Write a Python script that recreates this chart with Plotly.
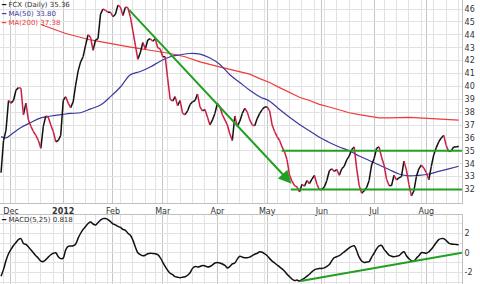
import plotly.graph_objects as go

# ---- data (x = trading-day index, 0 = 1 Dec 2011) ----
day_start = -4
close = [
    33.3, 35.8, 36.6, 38.9, 38.7, 38.9, 39.7, 39.9, 39.85, 37.8, 38.7, 37.4, 36.9, 36.5, 36.2, 35.8, 35.2, 36.9, 37.7, 37.6, 37.0, 36.5, 35.7, 35.8, 36.2,
    38.9, 39.2, 38.7, 38.35, 38.8, 40.1, 41.2, 41.9, 42.3, 43.2, 44.0, 43.8, 42.8, 43.6, 43.7, 45.6, 46.0, 45.9, 45.75, 45.75,
    45.4, 45.6, 46.3, 46.15, 45.5, 46.15, 46.1, 45.4, 44.3, 43.2, 42.1, 42.6, 43.4, 42.9, 43.6, 43.7, 43.5, 43.7, 43.0, 42.9,
    42.3, 42.3, 40.6, 39.0, 38.85, 39.2, 38.5, 38.9, 37.9, 37.8, 38.1, 38.6, 38.8, 38.9, 39.4, 38.4, 38.1, 38.2, 37.6, 37.0, 37.4, 37.9,
    38.7, 38.4, 37.8, 37.4, 37.0, 36.3, 35.8, 37.7, 36.9, 37.3, 37.9, 38.3, 38.0, 37.4, 37.0, 36.95, 37.5, 37.9, 38.2, 38.4,
    38.4, 38.1, 37.0, 36.5, 36.1, 35.8, 35.3, 34.9, 34.3, 33.1, 32.65, 32.3, 32.2, 31.8, 32.4, 32.25, 32.7, 32.45, 32.8, 33.1, 32.4, 32.0,
    32.0, 32.2, 32.7, 33.45, 33.6, 33.4, 33.55, 33.1, 33.6, 33.8, 34.3, 34.6, 35.1, 35.3, 33.6, 32.3, 31.7, 31.9, 32.15, 32.7, 33.9,
    34.4, 35.2, 35.3, 34.5, 33.9, 32.8, 32.3, 32.3, 33.1, 32.75, 32.9, 33.0, 34.2, 33.5, 32.4, 31.5, 31.9, 33.0, 33.6, 33.9, 33.65,
    33.3, 32.75, 33.8, 34.7, 35.25, 35.7, 36.0, 36.2, 35.4, 34.95, 35.0, 35.3, 35.3, 35.36,
]
macd = [
    -2.4, -1.7, -0.8, -0.1, 0.35, 0.75, 1.05, 1.35, 1.45, 0.95, 0.85, 0.6, 0.3, 0.0, -0.3, -0.55, -0.85, -0.9, -0.7, -0.45, -0.2, -0.05, 0.0, -0.4, -0.6,
    -0.55, 0.3, 0.65, 0.7, 0.72, 0.9, 1.5, 2.0, 2.4, 2.7, 3.0, 3.15, 2.95, 2.85, 3.1, 3.35, 3.5, 3.5, 3.4, 3.2,
    2.95, 2.85, 2.7, 2.6, 2.4, 2.3, 2.0, 1.8, 1.3, 0.6, 0.0, -0.2, -0.3, -0.25, -0.1, -0.05, -0.07, -0.1, -0.2, -0.5,
    -0.95, -1.4, -1.8, -2.1, -2.25, -2.45, -2.5, -2.55, -2.5, -2.45, -2.3, -2.05, -1.6, -1.4, -1.45, -1.4, -1.3, -1.35, -1.45, -1.4, -1.25, -1.05,
    -1.0, -1.05, -1.15, -1.3, -1.55, -1.4, -1.15, -1.05, -0.65, -0.35, -0.45, -0.5, -0.5, -0.45, -0.3, -0.15, -0.05, 0.1, 0.05, -0.1,
    -0.3, -0.6, -0.85, -1.05, -1.25, -1.45, -1.65, -1.9, -2.2, -2.45, -2.7, -2.85, -2.8, -2.9, -2.75, -2.6, -2.4, -2.2, -1.95, -1.75, -1.65, -1.6,
    -1.6, -1.55, -1.4, -1.2, -0.8, -0.5, -0.4, -0.3, -0.1, 0.1, 0.3, 0.5, 0.65, 0.72, 0.2, -0.45, -0.85, -1.0, -0.95, -0.9, -0.45,
    -0.05, 0.4, 0.7, 0.75, 0.35, 0.05, -0.25, -0.35, -0.4, -0.35, -0.3, -0.05, 0.1, -0.3, -0.6, -0.8, -0.85, -0.55, -0.3, 0.0, 0.0,
    -0.05, 0.1, 0.35, 0.7, 1.05, 1.35, 1.45, 1.45, 1.25, 1.0, 0.9, 0.87, 0.85, 0.818,
]
ma50_days = [-4, -2, 0, 4, 8, 12, 16, 20, 24, 28, 32, 36, 40, 44, 48, 52, 56, 60, 64, 68, 72, 76, 80, 84, 88, 92,
             96, 100, 104, 108, 112, 116, 120, 124, 128, 132, 136, 140, 144, 148, 152, 156, 160, 164, 168, 172, 176, 180]
ma50 = [36.1, 36.0, 36.25, 36.8, 37.2, 37.55, 37.7, 37.8, 37.9, 37.95, 38.25, 38.55, 39.2, 39.95, 40.9, 41.15, 41.5, 41.95,
        42.3, 42.45, 42.55, 42.5, 42.2, 41.7, 40.9, 40.3, 39.7, 39.2, 38.85, 38.2, 37.6, 37.05, 36.55, 36.05, 35.65, 35.3,
        35.0, 34.6, 34.25, 33.9, 33.55, 33.2, 33.05, 33.1, 33.2, 33.4, 33.6, 33.8]
ma200_days = [12, 22, 32, 40, 48, 56, 64, 70, 76, 83, 92, 96, 100, 104, 108, 112, 116, 120, 124, 128, 132, 136, 140,
              144, 148, 152, 156, 160, 164, 168, 172, 176, 180]
ma200 = [44.8, 44.1, 43.6, 43.3, 43.05, 42.8, 42.55, 42.3, 41.9, 41.55, 41.15, 40.95, 40.6, 40.3, 39.9, 39.5, 39.15,
         38.9, 38.6, 38.4, 38.15, 37.95, 37.8, 37.65, 37.55, 37.55, 37.6, 37.6, 37.55, 37.5, 37.5, 37.42, 37.38]

month_days = [0, 21, 41, 61, 83, 103, 125, 146, 167]
month_labels = ["Dec", "<b>2012</b>", "Feb", "Mar", "Apr", "May", "Jun", "Jul", "Aug"]
week_days = [-3, 2, 7, 12, 17, 21, 25, 30, 34, 39, 44, 49, 54, 58, 63, 68, 73, 78, 83, 87, 92, 97, 102, 107,
             112, 117, 122, 126, 131, 136, 141, 146, 150, 155, 160, 165, 170, 175, 180]
price_ticks = list(range(31, 47))
macd_ticks = [-3, -2, -1, 0, 1, 2, 3]
macd_tick_labels = ["", "-2", "", "0", "", "2", ""]

downtrend_days = [46.9, 112.8]
downtrend_vals = [46.05, 32.45]
resist_days = [108.8, 181.3]
resist_vals = [35, 35]
support_days = [112.5, 181.3]
support_vals = [32, 32]
macd_trend_days = [116.5, 181.3]
macd_trend_vals = [-2.9, 0.0]

# ---- styling ----
BLACK = "#111111"
RED_PRICE = "#cc1f45"
RED_MA = "#ee3b3b"
BLUE_MA = "#3a3a9c"
GREEN = "#22a022"
GRID = "#e2e2e2"
GRID_MONTH = "#c6c6c6"
FONT = "DejaVu Sans"

days = list(range(day_start, day_start + len(close)))
macd_days = list(range(day_start, day_start + len(macd)))

up_x, up_y, dn_x, dn_y = [], [], [], []
for i in range(1, len(close)):
    if close[i] >= close[i - 1]:
        up_x += [days[i - 1], days[i], None]
        up_y += [close[i - 1], close[i], None]
    else:
        dn_x += [days[i - 1], days[i], None]
        dn_y += [close[i - 1], close[i], None]

fig = go.Figure()
fig.add_trace(go.Scatter(x=ma200_days, y=ma200, mode="lines", line=dict(color=RED_MA, width=1.2),
                         xaxis="x", yaxis="y"))
fig.add_trace(go.Scatter(x=ma50_days, y=ma50, mode="lines", line=dict(color=BLUE_MA, width=1.2, shape="spline"),
                         xaxis="x", yaxis="y"))
fig.add_trace(go.Scatter(x=up_x, y=up_y, mode="lines", line=dict(color=BLACK, width=1.5), xaxis="x", yaxis="y"))
fig.add_trace(go.Scatter(x=dn_x, y=dn_y, mode="lines", line=dict(color=RED_PRICE, width=1.5), xaxis="x", yaxis="y"))
fig.add_trace(go.Scatter(x=resist_days, y=resist_vals, mode="lines", line=dict(color=GREEN, width=2),
                         xaxis="x", yaxis="y"))
fig.add_trace(go.Scatter(x=support_days, y=support_vals, mode="lines", line=dict(color=GREEN, width=2),
                         xaxis="x", yaxis="y"))
fig.add_trace(go.Scatter(x=macd_days, y=macd, mode="lines", line=dict(color=BLACK, width=1.5, shape="spline"),
                         xaxis="x2", yaxis="y2"))
fig.add_trace(go.Scatter(x=macd_trend_days, y=macd_trend_vals, mode="lines", line=dict(color=GREEN, width=2),
                         xaxis="x2", yaxis="y2"))

fig.add_annotation(x=downtrend_days[1], y=downtrend_vals[1], ax=downtrend_days[0], ay=downtrend_vals[0],
                   xref="x", yref="y", axref="x", ayref="y", text="", showarrow=True,
                   arrowhead=2, arrowsize=1.3, arrowwidth=2, arrowcolor=GREEN, standoff=0)

H = 284.0
price_legend = "<br>".join([
    f"<span style='color:{BLACK}'>━</span> <span style='color:#333333'>FCX (Daily) {close[-1]:.2f}</span>",
    f"<span style='color:{BLUE_MA}'>━</span> <span style='color:{BLUE_MA}'>MA(50) {ma50[-1]:.2f}</span>",
    f"<span style='color:{RED_MA}'>━</span> <span style='color:{RED_MA}'>MA(200) {ma200[-1]:.2f}</span>",
])
fig.add_annotation(x=0.0, y=1.0, xref="paper", yref="paper", xanchor="left", yanchor="top", align="left",
                   showarrow=False, borderpad=0, text=price_legend,
                   font=dict(family=FONT, size=7))
fig.add_annotation(x=0.0, y=1 - 219.5 / H, xref="paper", yref="paper", xanchor="left", yanchor="middle",
                   showarrow=False, borderpad=0,
                   text=f"<span style='color:{BLACK}'>━</span> <span style='color:#333333'>MACD(5,25) {macd[-1]:.3f}</span>",
                   font=dict(family=FONT, size=7))

xcommon = dict(range=[-4.42, 181.34], tickmode="array", tickvals=month_days, showgrid=True,
               gridcolor=GRID_MONTH, gridwidth=1, zeroline=False, ticks="", showline=True, mirror=True,
               linecolor="#c0c0c0", linewidth=1,
               minor=dict(tickmode="array", tickvals=week_days, showgrid=True, gridcolor=GRID, gridwidth=1))
ycommon = dict(side="right", showgrid=True, gridcolor=GRID, zeroline=False, ticks="", showline=True,
               mirror=True, linecolor="#c0c0c0", linewidth=1, tickfont=dict(family=FONT, size=8, color="#333333"))

fig.update_layout(
    width=480, height=284, margin=dict(l=0, r=18, t=0, b=0),
    paper_bgcolor="white", plot_bgcolor="white", showlegend=False,
    font=dict(family=FONT, size=8, color="#333333"),
    xaxis=dict(**xcommon, anchor="y", ticktext=month_labels, showticklabels=True,
               tickfont=dict(family=FONT, size=8, color="#333333")),
    xaxis2=dict(**xcommon, anchor="y2", matches="x", showticklabels=False),
    yaxis=dict(**ycommon, domain=[1 - 203 / H, 1], range=[30.95, 46.7], tickmode="array", tickvals=price_ticks,
               ticktext=["" if v == 31 else str(v) for v in price_ticks], anchor="x"),
    yaxis2=dict(**ycommon, domain=[0, 69 / H], range=[-3.2, 3.87], tickmode="array", tickvals=macd_ticks,
                ticktext=macd_tick_labels, anchor="x2"),
)

fig.write_html("out.html")
